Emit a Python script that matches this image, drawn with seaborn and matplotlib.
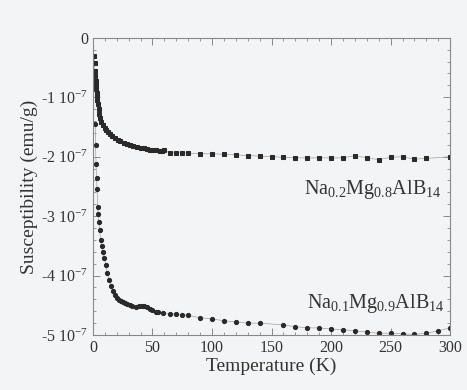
import numpy as np
import pandas as pd
import seaborn as sns
import matplotlib.pyplot as plt
from matplotlib.ticker import MultipleLocator, FuncFormatter

# Na0.2Mg0.8AlB14 (valores en unidades de 1e-7 emu/g)
temp_02 = [1.2, 1.4, 1.6, 1.9, 2.2, 2.5, 2.8, 3.1, 3.4, 3.8, 4.3, 4.8, 5.4, 6.0, 7.0,
           8.5, 10, 11, 12.5, 14, 16, 18.5, 21, 23, 26, 28.5, 31, 34, 37, 40, 43, 45,
           48, 50, 53, 56, 58, 60, 65, 70, 75, 80, 90, 100, 110, 120, 130, 140, 150,
           160, 170, 180, 190, 200, 210, 220, 230, 240, 250, 260, 270, 280, 300]
chi_02 = [-0.30, -0.42, -0.55, -0.64, -0.72, -0.80, -0.86, -0.92, -0.97, -1.04, -1.12,
          -1.20, -1.28, -1.35, -1.41, -1.47, -1.52, -1.55, -1.59, -1.62, -1.66, -1.69,
          -1.72, -1.74, -1.77, -1.79, -1.80, -1.82, -1.84, -1.85, -1.86, -1.87, -1.88,
          -1.89, -1.89, -1.90, -1.91, -1.89, -1.93, -1.93, -1.93, -1.94, -1.95, -1.95,
          -1.96, -1.97, -1.98, -1.99, -2.00, -2.01, -2.02, -2.02, -2.02, -2.02, -2.02,
          -1.98, -2.02, -2.05, -2.01, -2.00, -2.04, -2.03, -2.00]

# Na0.1Mg0.9AlB14
temp_01 = [2.0, 2.2, 2.6, 3.0, 3.5, 4.0, 4.3, 5.0, 5.6, 6.5, 7.5, 8.4, 9.5, 11, 12,
           13.5, 15, 17, 18.5, 20, 22, 23.5, 25, 27, 29, 31, 33, 36, 39, 41, 43, 45,
           48, 50, 53, 55, 59, 65, 70, 75, 80, 90, 100, 110, 120, 130, 140, 160, 170,
           180, 190, 200, 210, 220, 230, 240, 250, 260, 270, 280, 290, 300]
chi_01 = [-1.45, -1.81, -2.13, -2.35, -2.55, -2.85, -2.97, -3.10, -3.24, -3.40, -3.50,
          -3.60, -3.70, -3.83, -3.95, -4.07, -4.17, -4.26, -4.32, -4.37, -4.41, -4.43,
          -4.45, -4.46, -4.48, -4.49, -4.51, -4.53, -4.51, -4.51, -4.52, -4.53, -4.56,
          -4.58, -4.61, -4.62, -4.63, -4.64, -4.65, -4.66, -4.67, -4.71, -4.73, -4.76,
          -4.78, -4.80, -4.80, -4.83, -4.86, -4.88, -4.88, -4.90, -4.91, -4.93, -4.95,
          -4.97, -4.97, -4.98, -4.99, -4.97, -4.93, -4.88]

df02 = pd.DataFrame({"T": temp_02, "chi": np.array(chi_02) * 1e-7})
df01 = pd.DataFrame({"T": temp_01, "chi": np.array(chi_01) * 1e-7})

sns.set_theme(style="ticks")
plt.rcParams["font.family"] = ["Liberation Serif", "DejaVu Serif"]
plt.rcParams["mathtext.fontset"] = "custom"
plt.rcParams["mathtext.rm"] = "Liberation Serif"
plt.rcParams["mathtext.it"] = "Liberation Serif:italic"

bg = "#f3f4f6"
fig = plt.figure(figsize=(4.67, 3.9), dpi=100, facecolor=bg)
ax = fig.add_axes([0.199, 0.141, 0.765, 0.762], facecolor=bg)

sns.lineplot(data=df02, x="T", y="chi", ax=ax, estimator=None, sort=False,
             color="#a0a0a0", lw=0.5, marker="s", markersize=3.0,
             markerfacecolor="#2a2a2a", markeredgecolor="#2a2a2a")
sns.lineplot(data=df01, x="T", y="chi", ax=ax, estimator=None, sort=False,
             color="#a0a0a0", lw=0.5, marker="o", markersize=3.0,
             markerfacecolor="#2a2a2a", markeredgecolor="#2a2a2a")

ax.set_xlim(0, 300)
ax.set_ylim(-5e-7, 0)
ax.xaxis.set_major_locator(MultipleLocator(50))
ax.xaxis.set_minor_locator(MultipleLocator(10))
ax.yaxis.set_major_locator(MultipleLocator(1e-7))
ax.yaxis.set_minor_locator(MultipleLocator(0.2e-7))


def fmt(v, pos):
    n = int(round(v / 1e-7))
    if n == 0:
        return "0"
    return f"{n} 10$^{{-7}}$"


ax.yaxis.set_major_formatter(FuncFormatter(fmt))
ax.tick_params(which="both", direction="in", top=True, right=True,
               colors="#888888", labelcolor="#333333", labelsize=11.5)
ax.tick_params(which="major", length=5, width=0.7)
ax.tick_params(which="minor", length=2.5, width=0.6)
for s in ax.spines.values():
    s.set_color("#888888")
    s.set_linewidth(0.8)

ax.set_xlabel("Temperature (K)", fontsize=14, color="#333333", labelpad=1)
ax.set_ylabel("Susceptibility (emu/g)", fontsize=14, color="#333333", labelpad=2)

ax.text(293, -2.62e-7, r"Na$_{0.2}$Mg$_{0.8}$AlB$_{14}$", ha="right", va="baseline",
        fontsize=14.5, color="#333333")
ax.text(295, -4.55e-7, r"Na$_{0.1}$Mg$_{0.9}$AlB$_{14}$", ha="right", va="baseline",
        fontsize=14.5, color="#333333")

fig.savefig("out.png", dpi=100, facecolor=bg)
